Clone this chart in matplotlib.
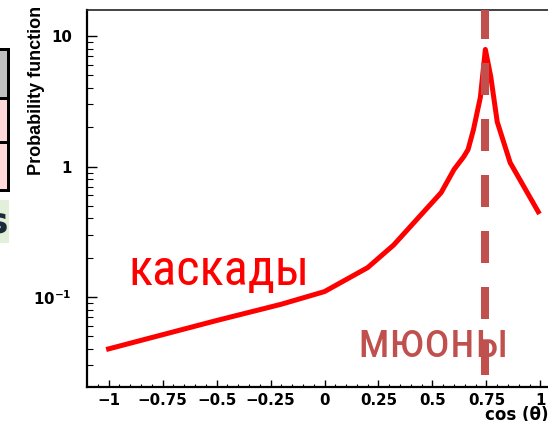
import matplotlib
matplotlib.use('Agg')
import matplotlib.pyplot as plt
from matplotlib.patches import Rectangle
from matplotlib.ticker import MultipleLocator, LogLocator, NullFormatter
from matplotlib import font_manager
from matplotlib.font_manager import FontProperties

# curve
cos_theta = [-1.0, -0.5, -0.2, 0.0, 0.2, 0.32, 0.48, 0.54, 0.6, 0.645, 0.665,
             0.69, 0.722, 0.745, 0.77, 0.8, 0.86, 0.99]
prob = [0.040, 0.066, 0.088, 0.110, 0.168, 0.25, 0.49, 0.63, 0.95, 1.19, 1.35,
        1.92, 3.4, 7.9, 4.9, 2.2, 1.07, 0.45]
muon_cut = 0.745

xtick_vals = [-1, -0.75, -0.5, -0.25, 0, 0.25, 0.5, 0.75, 1]
xtick_labels = ['\u22121', '\u22120.75', '\u22120.5', '\u22120.25', '0', '0.25', '0.5', '0.75', '1']
ytick_vals = [0.1, 1, 10]
ytick_labels = [r'$\mathbf{10^{-1}}$', '1', '10']

W, H = 548, 421
fig = plt.figure(figsize=(W / 100, H / 100), dpi=100)


def fx(x):
    return x / W


def fy(y):
    return 1 - y / H


ax = fig.add_axes([fx(87), fy(387), fx(562) - fx(87), fy(10) - fy(387)])
ax.set_xlim(-1.1, 1.1)
ax.set_yscale('log')
ax.set_ylim(10 ** -1.69, 10 ** 1.2)

ax.plot(cos_theta, prob, color='#ff0000', lw=3.6, solid_joinstyle='round', zorder=3)
lw_d = 5.8
px_per_lw = lw_d / 0.72
ax.axvline(muon_cut, color='#c0504d', lw=lw_d, zorder=4,
           linestyle=(44 / px_per_lw, (32 / px_per_lw, 24 / px_per_lw)))

for s in ['left', 'bottom']:
    ax.spines[s].set_linewidth(1.6)
ax.spines['top'].set_linewidth(1.2)
ax.spines['top'].set_color('#222222')

ax.set_xticks(xtick_vals)
ax.set_xticklabels(xtick_labels)
ax.xaxis.set_minor_locator(MultipleLocator(0.05))
ax.set_yticks(ytick_vals)
ax.set_yticklabels(ytick_labels)
ax.yaxis.set_minor_locator(LogLocator(base=10, subs=range(2, 10)))
ax.yaxis.set_minor_formatter(NullFormatter())

ax.tick_params(axis='both', which='both', direction='in', top=False, right=False)
ax.tick_params(axis='x', which='major', length=5, width=1, pad=4)
ax.tick_params(axis='x', which='minor', length=2.5, width=0.8)
ax.tick_params(axis='y', which='major', length=7, width=1, pad=11)
ax.tick_params(axis='y', which='minor', length=4, width=0.8)
for lab in ax.get_xticklabels() + ax.get_yticklabels():
    lab.set_fontfamily('DejaVu Sans')
    lab.set_fontweight('bold')
    lab.set_fontsize(10.8)

fig.text(fx(37), fy(90), 'Probability function', rotation=90, ha='center', va='center',
         fontsize=13, fontweight='bold', family='Liberation Sans')
fig.text(fx(485), fy(420), 'cos (\u03b8)', ha='left', va='baseline',
         fontsize=12, fontweight='bold', family='DejaVu Sans')

# russian labels: a narrow face if one is installed, fitted to the width in the picture
ru_font = FontProperties(family='Liberation Sans')
narrow_pref = ['Liberation Sans Narrow', 'Roboto Condensed', 'Open Sans Condensed',
               'Noto Sans', 'DejaVu Sans']
found = None
for name in narrow_pref:
    for f in font_manager.fontManager.ttflist:
        fn = f.fname.lower()
        if f.name == name and ('condensed' in fn or 'narrow' in fn) and f.style == 'normal' \
                and f.weight in (400, 'normal', 'regular') and 'semi' not in fn and 'extra' not in fn:
            found = f.fname
            break
    if found:
        break
if found:
    ru_font = FontProperties(fname=found)

t1 = fig.text(fx(128), fy(285), 'каскады', ha='left', va='baseline',
              color='#ff0000', fontsize=40, fontproperties=ru_font)
t2 = fig.text(fx(357), fy(357), 'мюоны', ha='left', va='baseline',
              color='#c0504d', fontsize=40, fontproperties=ru_font)
r = fig.canvas.get_renderer()
for t, target in [(t1, 181), (t2, 152)]:
    t.set_fontsize(40)
    w = t.get_window_extent(r).width
    t.set_fontsize(40 * target / w)

# bits of the slide table cut off on the left
fig.add_artist(Rectangle((fx(-5), fy(192)), fx(15), fy(48) - fy(192),
                         transform=fig.transFigure, facecolor='black', edgecolor='none'))
fig.add_artist(Rectangle((fx(-5), fy(97)), fx(12), fy(51) - fy(97),
                         transform=fig.transFigure, facecolor='#bfbfbf', edgecolor='none'))
fig.add_artist(Rectangle((fx(-5), fy(141)), fx(12), fy(100) - fy(141),
                         transform=fig.transFigure, facecolor='#ffd9d9', edgecolor='none'))
fig.add_artist(Rectangle((fx(-5), fy(189)), fx(12), fy(144) - fy(189),
                         transform=fig.transFigure, facecolor='#ffd9d9', edgecolor='none'))
fig.add_artist(Rectangle((fx(-5), fy(243)), fx(14), fy(200) - fy(243),
                         transform=fig.transFigure, facecolor='#e2efd9', edgecolor='none'))
fig.text(fx(8), fy(233), 's', ha='right', va='baseline', fontsize=26, fontweight='bold',
         color='#1c2a3a', family='DejaVu Sans')

fig.savefig('out.png', dpi=100)
